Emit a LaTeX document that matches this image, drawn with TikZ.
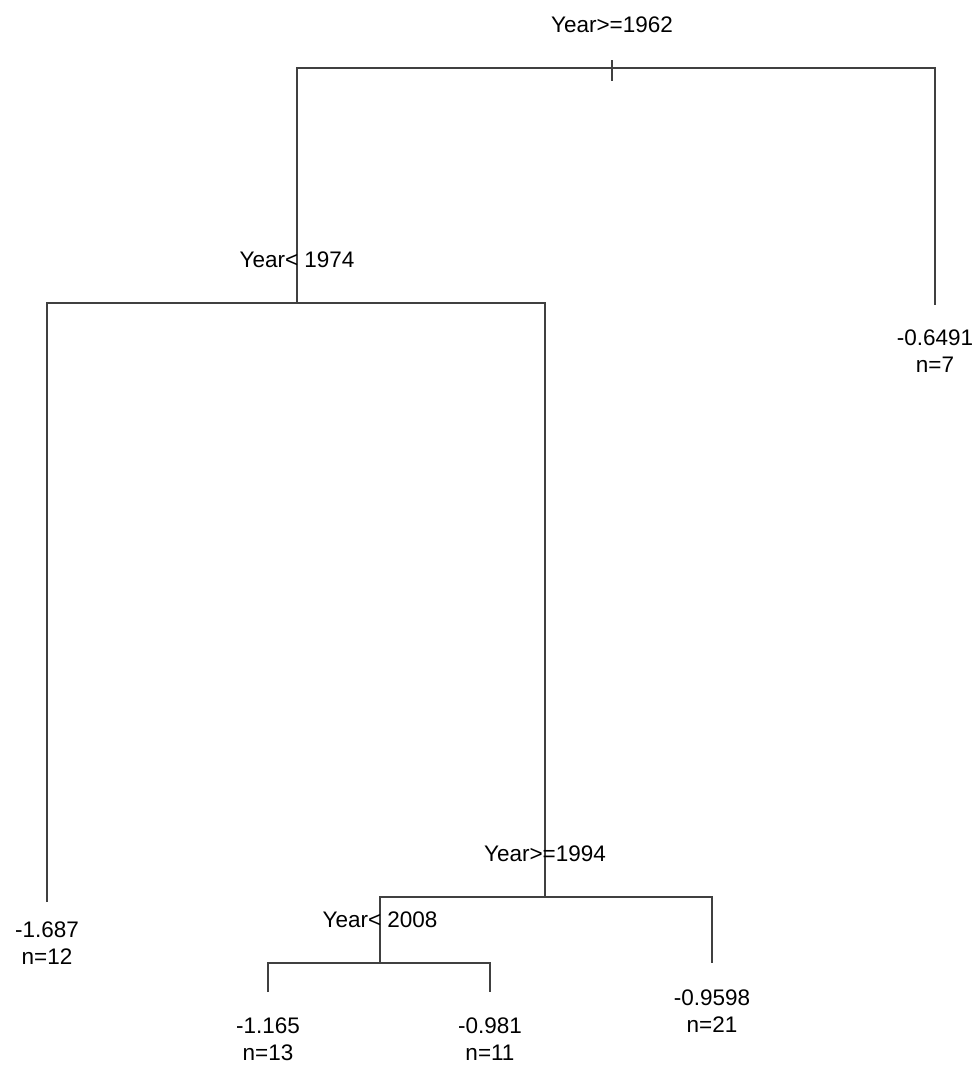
\documentclass[tikz,border=0pt]{standalone}
\usepackage{fontspec}
\setmainfont{Liberation Sans}
\usetikzlibrary{positioning}

\begin{document}
\begin{tikzpicture}[x=1pt, y=-1pt,
    edge/.style={line width=1.5pt, draw=black!75},
    split/.style={inner sep=0pt, font=\fontsize{22.5}{27}\selectfont},
    leaf/.style={inner sep=0pt, align=center, font=\fontsize{22.5}{27}\selectfont}]
  \useasboundingbox (0,0) rectangle (977,1069);

  % split points
  \coordinate (s1) at (612,68);
  \coordinate (s2) at (297,303);
  \coordinate (s3) at (545,897);
  \coordinate (s4) at (380,963);

  % leaf ends
  \coordinate (e7) at (935,305);
  \coordinate (e12) at (47,902);
  \coordinate (e13) at (268,992);
  \coordinate (e11) at (490,992);
  \coordinate (e21) at (712,963);

  % branches
  \draw[edge] (s2) |- (s1) -| (e7);
  \draw[edge] ([yshift=8pt]s1) -- ([yshift=-13pt]s1);
  \draw[edge] (e12) |- (s2) -| (s3);
  \draw[edge] (s4) |- (s3) -| (e21);
  \draw[edge] (e13) |- (s4) -| (e11);

  % split labels
  \node[split, above=35pt of s1] (t1) {Year>=1962};
  \node[split, above=35pt of s2] (t2) {Year< 1974};
  \node[split, above=35pt of s3] (t3) {Year>=1994};
  \node[split, above=35pt of s4] (t4) {Year< 2008};

  % leaves
  \node[leaf, below=25pt of e7] (n7) {-0.6491\\n=7};
  \node[leaf, below=20pt of e12] (n12) {-1.687\\n=12};
  \node[leaf, below=26pt of e13] (n13) {-1.165\\n=13};
  \node[leaf, below=26pt of e11] (n11) {-0.981\\n=11};
  \node[leaf, below=27pt of e21] (n21) {-0.9598\\n=21};
\end{tikzpicture}
\end{document}
